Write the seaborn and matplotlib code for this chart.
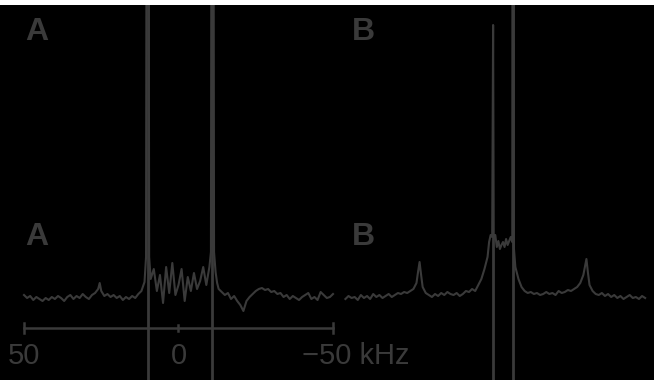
import matplotlib
matplotlib.use("Agg")
import matplotlib.pyplot as plt
from matplotlib.patches import Rectangle
import seaborn as sns
import pandas as pd

# ---- data (kHz, intensity) ----
a_khz = [50, 49, 48, 47, 46, 45, 44, 43, 42, 41, 40, 39, 38, 37, 36, 35, 34, 33, 32, 31,
         30, 29, 28, 27, 26, 25.5, 25, 24, 23, 22, 21, 20, 19, 18, 17, 16, 15, 14, 13, 12,
         11, 10.5, 10, 9.5, 9, 8, 7, 6, 5, 4, 3, 2, 1, 0, -1, -2, -3, -4, -5, -6, -7,
         -8, -9, -10, -10.5, -11, -11.5, -12, -12.5, -13, -14, -15, -16,
         -17, -18, -19, -20, -21, -22, -23, -24, -25, -26, -27, -28, -29, -30, -31, -32,
         -33, -34, -35, -36, -37, -38, -39, -40, -41, -42, -43, -44, -45, -46, -47, -48,
         -49, -50]
a_int = [2, -1, 1, -3, 0, -2, -4, -1, -3, 0, -2, 1, -1, -4, 0, 2, -2, 1, -1, 3,
         0, -2, 2, 4, 8, 14, 6, 1, 3, 0, 2, -1, 1, -3, 0, -2, 1, -1, 3, 6,
         15, 40, 1200, 40, 18, 28, 6, 22, -6, 30, 4, 34, 2, 12, 28, -4, 20, 6, 24, 8, 16,
         30, 12, 30, 45, 1200, 45, 25, 14, 8, 5, 2, 4,
         -2, 1, -4, -8, -14, -4, 0, 3, 6, 8, 9, 7, 8, 5, 6, 3,
         4, 0, 2, -2, 1, -1, -3, 0, 2, 4, -2, 0, -3, 5, 2, -1,
         0, 3]

b_khz = [51, 50, 49, 48, 47, 46, 45, 44, 43, 42, 41, 40, 39, 38, 37, 36, 35, 34, 33, 32,
         31, 30, 29, 28, 27.5, 27, 26.5, 26, 25, 24, 23, 22, 21, 20, 19, 18, 17, 16, 15, 14,
         13, 12, 11, 10, 9, 8, 7, 6, 5, 4.5, 4, 3.5, 3.2, 3, 2.5, 2, 1.5, 1, 0.5, 0,
         -0.5, -1, -1.5, -2, -2.5, -3, -3.2, -3.5, -4, -5, -6, -7, -8, -9, -10, -11, -12,
         -13, -14, -15, -16, -17, -18, -19, -20, -21, -22, -23, -24, -25, -26, -26.5, -27,
         -27.5, -28, -29, -30, -31, -32, -33, -34, -35, -36, -37, -38, -39, -40, -41, -42,
         -43, -44, -45, -46]
b_int = [-2, 1, -1, 0, -3, 2, -1, 1, -2, 3, 0, 2, -1, 1, 3, 0, 2, 4, 3, 5,
         4, 6, 8, 14, 25, 35, 22, 10, 4, 2, 0, 3, 1, 4, 2, 5, 3, 2, 4, 1,
         3, 6, 5, 8, 6, 12, 18, 28, 40, 55, 62, 60, 272, 58, 62, 50, 56, 48, 52, 55,
         50, 58, 52, 56, 60, 55, 1200, 50, 30, 18, 10, 6, 4, 5, 3, 4, 2,
         3, 5, 3, 4, 2, 6, 4, 5, 7, 6, 8, 10, 14, 22, 30, 38,
         24, 12, 6, 3, 2, 4, 1, 3, 0, 2, -1, 1, -2, 0, 2, -1,
         0, -2, 1, -1]

a_lines = [10, -11]          # peak positions, lines drawn full height
b_lines_full = [-3.2]
b_lines_low = [3.2]          # line below the hump only
scale_ticks = [50, 0, -50]
tick_labels = ["50", "0", "\u221250 kHz"]
panel_labels = ["A", "B"]

GRAY = "#3a3a3a"
W, H = 654, 380
fig = plt.figure(figsize=(W / 100, H / 100), dpi=100, facecolor="black")
top_px = 5
fig.add_artist(Rectangle((0, 1 - top_px / H), 1, top_px / H, transform=fig.transFigure,
                         facecolor="white", edgecolor="none", zorder=10))

ax_h = (H - top_px) / H
axA = fig.add_axes([0, 0, 340 / W, ax_h])
axB = fig.add_axes([340 / W, 0, (W - 340) / W, ax_h])

ylo, yhi = 297 - 380, 297 - top_px
for ax in (axA, axB):
    ax.set_ylim(ylo, yhi)
    ax.axis("off")

axA.set_xlim((178.5 - 0) / 3.09, (178.5 - 340) / 3.09)
axB.set_xlim((503 - 340) / 3.09, (503 - 654) / 3.09)

dfA = pd.DataFrame({"khz": a_khz, "i": a_int})
dfB = pd.DataFrame({"khz": b_khz, "i": b_int})
sns.lineplot(data=dfA, x="khz", y="i", ax=axA, color=GRAY, lw=1.5, sort=False)
sns.lineplot(data=dfB, x="khz", y="i", ax=axB, color=GRAY, lw=1.5, sort=False)

for x in a_lines:
    axA.axvline(x, color=GRAY, lw=2)
for x in b_lines_full:
    axB.axvline(x, color=GRAY, lw=2)
for x in b_lines_low:
    axB.plot([x, x], [ylo, 58], color=GRAY, lw=2)

# scale bar
axA.plot([scale_ticks[0], scale_ticks[-1]], [-31, -31], color=GRAY, lw=1.8)
for t in scale_ticks:
    hh = 5 if t != 0 else 3
    axA.plot([t, t], [-31 - hh, -31 + hh], color=GRAY, lw=1.8)
axA.text(scale_ticks[0], -59, tick_labels[0], ha="center", va="center",
         color=GRAY, fontsize=21, family="Liberation Sans")
axA.text(scale_ticks[1], -59, tick_labels[1], ha="center", va="center",
         color=GRAY, fontsize=21, family="Liberation Sans")
axA.text(-40, -59, tick_labels[2], ha="left", va="center",
         color=GRAY, fontsize=21, family="Liberation Sans")

for ax, lab, xk in ((axA, panel_labels[0], 45.8), (axB, panel_labels[1], 45.3)):
    for yy in (265, 60):
        ax.text(xk, yy, lab, ha="center", va="center", color=GRAY,
                fontsize=23, fontweight="bold", family="Liberation Sans")

fig.savefig("out.png", dpi=100, facecolor="black")
